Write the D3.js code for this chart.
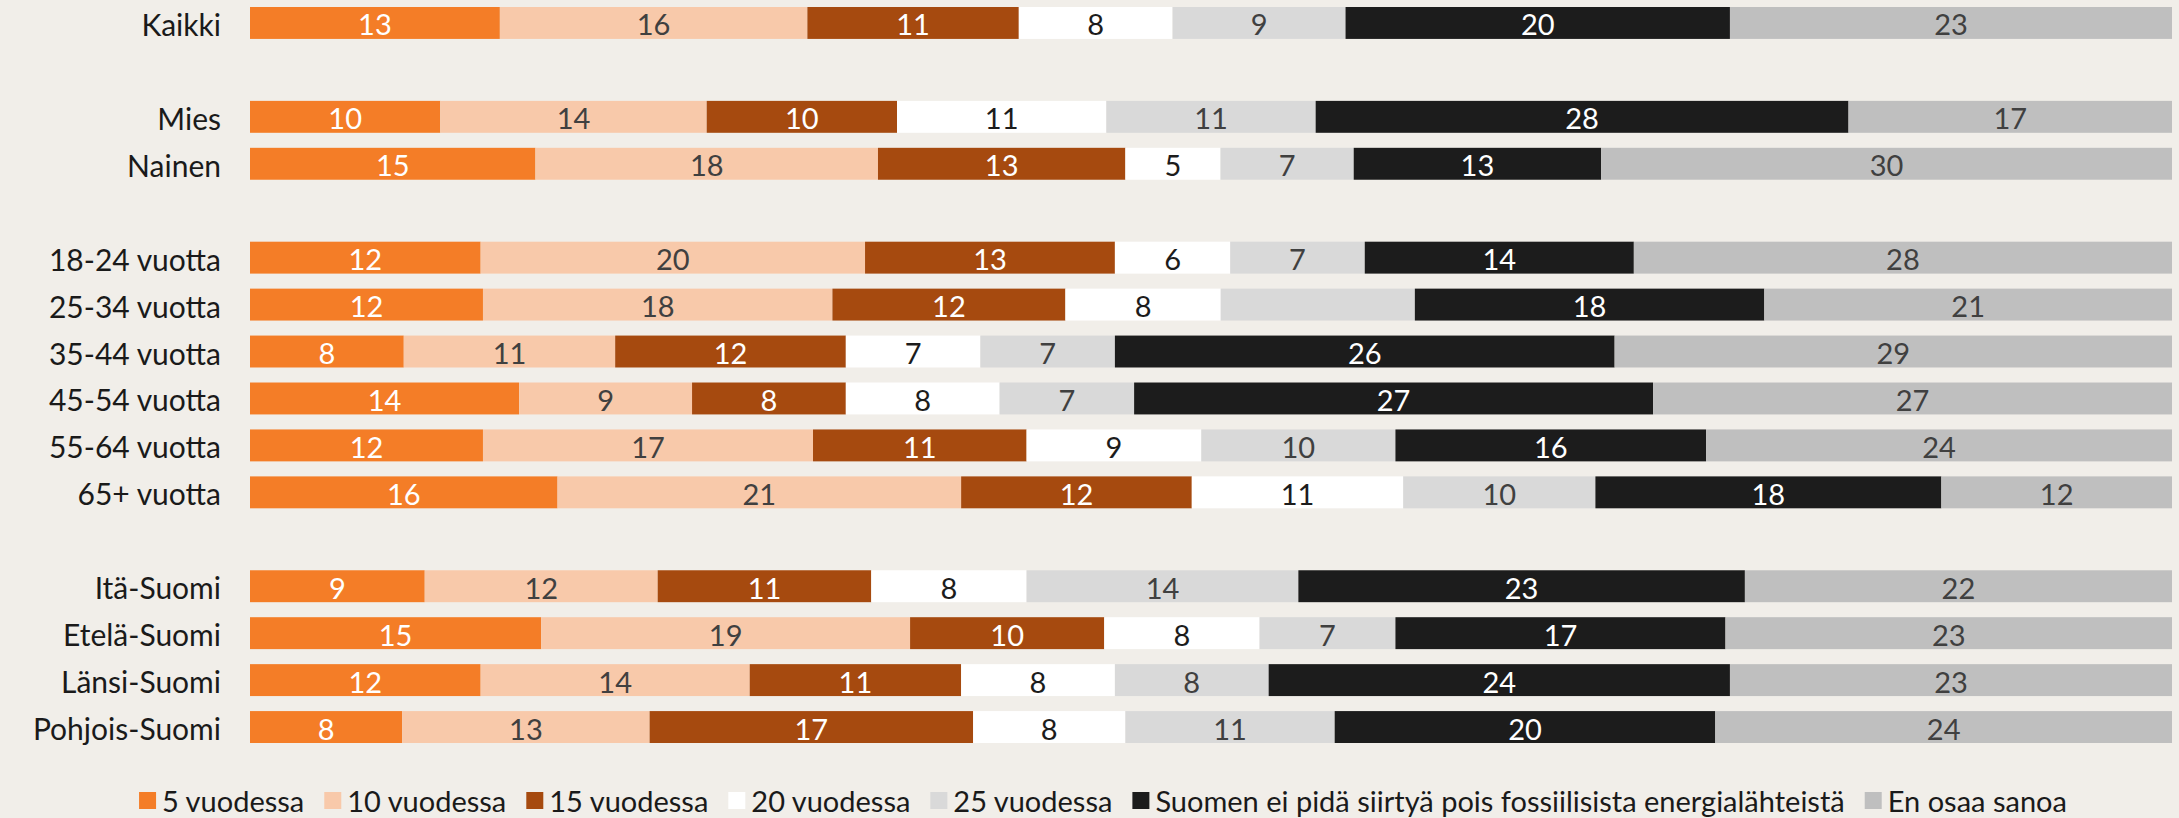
<!doctype html>
<html>
<head>
<meta charset="utf-8">
<title>Siirtyminen pois fossiilisista energialähteistä</title>
<script src="https://d3js.org/d3.v7.min.js"></script>
<style>
  body { margin: 0; background: #f1eee9; }
  text { font-family: Lato, Roboto, "Open Sans", sans-serif; }
</style>
</head>
<body>
<svg id="chart" width="2179" height="818"></svg>
<script>
// rows from top to bottom, "" marks an empty gap row
var categories = ["Kaikki", "", "Mies", "Nainen", "", "18-24 vuotta", "25-34 vuotta",
    "35-44 vuotta", "45-54 vuotta", "55-64 vuotta", "65+ vuotta", "",
    "Itä-Suomi", "Etelä-Suomi", "Länsi-Suomi", "Pohjois-Suomi"]

var seriesNames = ["5 vuodessa", "10 vuodessa", "15 vuodessa", "20 vuodessa", "25 vuodessa",
    "Suomen ei pidä siirtyä pois fossiilisista energialähteistä", "En osaa sanoa"]

// values per row (same order as seriesNames), gap rows left out
var v5  = [13, 10, 15, 12, 12, 8, 14, 12, 16, 9, 15, 12, 8]
var v10 = [16, 14, 18, 20, 18, 11, 9, 17, 21, 12, 19, 14, 13]
var v15 = [11, 10, 13, 13, 12, 12, 8, 11, 12, 11, 10, 11, 17]
var v20 = [8, 11, 5, 6, 8, 7, 8, 9, 11, 8, 8, 8, 8]
var v25 = [9, 11, 7, 7, 10, 7, 7, 10, 10, 14, 7, 8, 11]
var vEi = [20, 28, 13, 14, 18, 26, 27, 16, 18, 23, 17, 24, 20]
var vEos = [23, 17, 30, 28, 21, 29, 27, 24, 12, 22, 23, 23, 24]

// segment without a printed value in the original (25-34 vuotta, 25 vuodessa)
var unlabeled = [["25-34 vuotta", "25 vuodessa"]]

var colors = ["#f47d27", "#f8c9aa", "#a64a0f", "#ffffff", "#d9d9d9", "#1c1c1c", "#bfbfbf"]
var labelColors = ["#ffffff", "#404040", "#ffffff", "#1c1c1c", "#404040", "#ffffff", "#404040"]

var svg = d3.select('#chart')

var rowLabels = categories.filter(c => c !== "")
var cols = [v5, v10, v15, v20, v25, vEi, vEos]
var table = rowLabels.map((name, i) => {
    var row = { name: name }
    seriesNames.forEach((s, j) => row[s] = cols[j][i])
    return row
})

var keys = categories.map((c, i) => c === "" ? "_gap" + i : c)
var y = d3.scaleBand().domain(keys).range([7, 743]).paddingInner(0.32).paddingOuter(0)
var x = d3.scaleLinear().domain([0, 1]).range([250, 2172])

var stack = d3.stack().keys(seriesNames).offset(d3.stackOffsetExpand)
var layers = stack(table)

var g = svg.selectAll('g.layer')
    .data(layers)
    .enter()
    .append('g')
    .attr('class', 'layer')

g.selectAll('rect')
    .data(d => d)
    .enter()
    .append('rect')
    .attr('x', d => x(d[0]))
    .attr('y', d => y(d.data.name))
    .attr('width', d => x(d[1]) - x(d[0]))
    .attr('height', y.bandwidth())
    .attr('fill', function (d) { return colors[d3.select(this.parentNode).datum().index] })

g.each(function (layer) {
    d3.select(this).selectAll('text')
        .data(layer.filter(d => !unlabeled.some(u => u[0] === d.data.name && u[1] === layer.key)))
        .enter()
        .append('text')
        .attr('x', d => (x(d[0]) + x(d[1])) / 2)
        .attr('y', d => y(d.data.name) + y.bandwidth() / 2 + 1)
        .attr('text-anchor', 'middle')
        .attr('dominant-baseline', 'central')
        .attr('font-size', 29)
        .attr('fill', labelColors[layer.index])
        .text(d => d.data[layer.key])
})

svg.selectAll('text.row')
    .data(rowLabels)
    .enter()
    .append('text')
    .attr('class', 'row')
    .attr('x', 221)
    .attr('y', d => y(d) + y.bandwidth() / 2 + 1)
    .attr('text-anchor', 'end')
    .attr('dominant-baseline', 'central')
    .attr('font-size', 30)
    .attr('fill', '#1a1a1a')
    .text(d => d)

// legend, laid out from measured text widths and centred
var legend = svg.append('g')
var items = legend.selectAll('g')
    .data(seriesNames)
    .enter()
    .append('g')
items.append('rect')
    .attr('y', 792)
    .attr('width', 17)
    .attr('height', 17)
    .attr('fill', (d, i) => colors[i])
items.append('text')
    .attr('x', 23)
    .attr('y', 800)
    .attr('dominant-baseline', 'central')
    .attr('font-size', 29)
    .attr('fill', '#1a1a1a')
    .text(d => d)

var GAP = 20
var widths = []
items.each(function () { widths.push(23 + this.querySelector('text').getComputedTextLength()) })
var total = d3.sum(widths) + GAP * (widths.length - 1)
var cx = 1103 - total / 2
items.attr('transform', (d, i) => {
    var t = 'translate(' + cx + ',0)'
    cx += widths[i] + GAP
    return t
})
</script>
</body>
</html>
